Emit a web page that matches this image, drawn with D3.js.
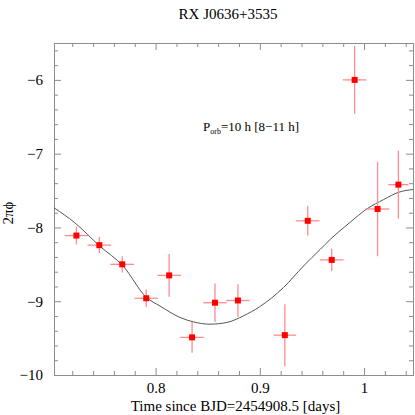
<!DOCTYPE html>
<html>
<head>
<meta charset="utf-8">
<title>RX J0636+3535</title>
<style>
body { margin: 0; background: #fff; }
svg text { font-family: "Liberation Serif", "DejaVu Serif", serif; fill: #000; }
.axis path, .axis line { stroke: #8c8c8c; }
.err { stroke: #ff8c8c; stroke-width: 1.3px; }
.model { fill: none; stroke: #555; stroke-width: 1px; }
</style>
</head>
<body>
<script src="https://d3js.org/d3.v7.min.js"></script>
<script>

// binned phase measurements
var times  = [0.724, 0.746, 0.768, 0.791, 0.813, 0.835, 0.857, 0.879, 0.924, 0.946, 0.969, 0.991, 1.013, 1.033];
var phases = [-8.11, -8.24, -8.50, -8.96, -8.65, -9.49, -9.02, -8.99, -9.46, -7.91, -8.44, -6.00, -7.75, -7.42];
var timeErr  = [0.0113, 0.0113, 0.0113, 0.0113, 0.0113, 0.0113, 0.0113, 0.0113, 0.0108, 0.0113, 0.0113, 0.0113, 0.0113, 0.0097];
var phaseErr = [0.12, 0.11, 0.11, 0.12, 0.29, 0.21, 0.26, 0.22, 0.42, 0.20, 0.15, 0.46, 0.64, 0.46];

// sinusoid model
var modelT   = [0.7026, 0.7224, 0.7464, 0.7688, 0.7913, 0.8041, 0.8234, 0.8362, 0.8522, 0.8683, 0.8842, 0.8996, 0.9227, 0.9419, 0.9580, 0.9676, 0.9862, 1.0029, 1.0188, 1.0333, 1.047];
var modelPhi = [-7.734, -7.936, -8.253, -8.523, -8.950, -9.064, -9.220, -9.280, -9.311, -9.288, -9.199, -9.077, -8.815, -8.523, -8.297, -8.162, -7.936, -7.747, -7.622, -7.523, -7.486];

var xMajor = [0.8, 0.9, 1.0];
var yMajor = [-10, -9, -8, -7, -6];

var margin = {top: 43, right: 2, bottom: 40, left: 54};
var outer_width = 415, outer_height = 415;
var w = outer_width - margin.left - margin.right;
var h = outer_height - margin.top - margin.bottom;

var x = d3.scaleLinear().domain([0.7025, 1.047]).range([0, w]);
var y = d3.scaleLinear().domain([-10, -5.5]).range([h, 0]);

var svgRoot = d3.select("body").append("svg")
    .attr("width", outer_width)
    .attr("height", outer_height);

svgRoot.append("text")
    .attr("x", 228).attr("y", 19)
    .attr("text-anchor", "middle")
    .style("font-size", "15px")
    .text("RX J0636+3535");

var svg = svgRoot.append("g")
    .attr("transform", "translate(" + margin.left + "," + margin.top + ")");

svg.append("defs").append("clipPath").attr("id", "plotclip")
  .append("rect").attr("width", w).attr("height", h);

var xMinor = d3.range(0.72, 1.047, 0.02).filter(function(v){ return Math.abs(v*10 - Math.round(v*10)) > 1e-6; });
var yMinor = d3.range(-9.8, -5.5, 0.2).filter(function(v){ return Math.abs(v - Math.round(v)) > 1e-6; });

function fmt(d){ return d < 0 ? "\u2212" + Math.abs(d) : (d === 1 ? "1" : d3.format(".1f")(d)); }

// bottom + top
svg.append("g").attr("class", "axis").attr("transform", "translate(0," + h + ")")
  .call(d3.axisBottom(x).tickValues(xMajor).tickSize(-7).tickPadding(7).tickFormat(fmt));
svg.append("g").attr("class", "axis").attr("transform", "translate(0," + h + ")")
  .call(d3.axisBottom(x).tickValues(xMinor).tickSize(-4).tickFormat(""));
svg.append("g").attr("class", "axis")
  .call(d3.axisTop(x).tickValues(xMajor).tickSize(-7).tickFormat(""));
svg.append("g").attr("class", "axis")
  .call(d3.axisTop(x).tickValues(xMinor).tickSize(-4).tickFormat(""));

// left + right
svg.append("g").attr("class", "axis")
  .call(d3.axisLeft(y).tickValues(yMajor).tickSize(-7).tickPadding(11).tickFormat(fmt));
svg.append("g").attr("class", "axis")
  .call(d3.axisLeft(y).tickValues(yMinor).tickSize(-4).tickFormat(""));
svg.append("g").attr("class", "axis").attr("transform", "translate(" + w + ",0)")
  .call(d3.axisRight(y).tickValues(yMajor).tickSize(-7).tickFormat(""));
svg.append("g").attr("class", "axis").attr("transform", "translate(" + w + ",0)")
  .call(d3.axisRight(y).tickValues(yMinor).tickSize(-4).tickFormat(""));

svg.selectAll(".axis .tick text")
    .style("font-size", "15px")
    .style("font-family", "'Liberation Serif', serif");
svg.selectAll(".axis path.domain").attr("stroke", "#8c8c8c");

// model curve
var line = d3.line()
    .x(function(d){ return x(d[0]); })
    .y(function(d){ return y(d[1]); })
    .curve(d3.curveMonotoneX);
svg.append("path")
    .datum(d3.zip(modelT, modelPhi))
    .attr("class", "model")
    .attr("clip-path", "url(#plotclip)")
    .attr("d", line);

// data with error bars
var pts = times.map(function(t, i){ return {t: t, p: phases[i], et: timeErr[i], ep: phaseErr[i]}; });
var g = svg.append("g").attr("clip-path", "url(#plotclip)");
g.selectAll(".ex").data(pts).enter().append("line").attr("class", "err")
  .attr("x1", function(d){ return x(d.t - d.et); })
  .attr("x2", function(d){ return x(d.t + d.et); })
  .attr("y1", function(d){ return y(d.p); })
  .attr("y2", function(d){ return y(d.p); });
g.selectAll(".ey").data(pts).enter().append("line").attr("class", "err")
  .attr("x1", function(d){ return x(d.t); })
  .attr("x2", function(d){ return x(d.t); })
  .attr("y1", function(d){ return y(d.p - d.ep); })
  .attr("y2", function(d){ return y(d.p + d.ep); });
g.selectAll(".pt").data(pts).enter().append("rect")
  .attr("x", function(d){ return x(d.t) - 3; })
  .attr("y", function(d){ return y(d.p) - 3; })
  .attr("width", 6).attr("height", 6)
  .attr("fill", "#ff0000");

// annotation
var ann = svgRoot.append("text").attr("x", 203).attr("y", 131)
    .style("font-size", "13px")
    .style("font-family", "'Liberation Serif', serif");
ann.append("tspan").text("P");
ann.append("tspan").attr("dy", 3).style("font-size", "8px").text("orb");
ann.append("tspan").attr("dy", -3).text("=10 h [8\u221211 h]");

// axis titles
svgRoot.append("text")
    .attr("x", margin.left + w / 2 + 2).attr("y", 411)
    .attr("text-anchor", "middle")
    .style("font-size", "15px")
    .text("Time since BJD=2454908.5 [days]");
svgRoot.append("text")
    .attr("transform", "translate(13,213) rotate(-90)")
    .attr("text-anchor", "middle")
    .style("font-size", "15px")
    .text("2\u03c0\u03d5");

</script>
</body>
</html>
